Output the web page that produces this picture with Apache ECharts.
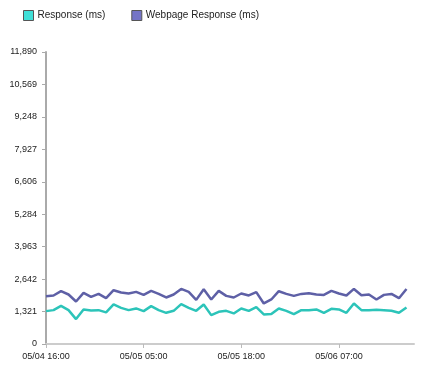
<!DOCTYPE html>
<html>
<head>
<meta charset="utf-8">
<script src="https://cdn.jsdelivr.net/npm/echarts@6/dist/echarts.min.js"></script>
<style>
html,body{margin:0;padding:0;background:#fff;}
#chart{width:429px;height:376px;}
</style>
</head>
<body>
<div id="chart"></div>
<script>
// Hourly categories: 05/04 16:00 .. 05/06 17:00 (last category has no data)
var startDay = 4, startHour = 16, hourCount = 50;
var categories = [];
for (var i = 0; i < hourCount; i++) {
  var h = startHour + i;
  var d = startDay + Math.floor(h / 24);
  var hh = h % 24;
  categories.push('05/' + (d < 10 ? '0' + d : d) + ' ' + (hh < 10 ? '0' + hh : hh) + ':00');
}

var seriesNames = ['Response (ms)', 'Webpage Response (ms)'];

var responseMs = [1339,1379,1554,1379,1014,1408,1367,1379,1286,1610,
                  1472,1379,1448,1339,1541,1379,1270,1351,1623,1472,
                  1351,1610,1176,1310,1351,1245,1448,1351,1501,1205,
                  1217,1448,1351,1217,1379,1379,1408,1270,1432,1408,
                  1270,1651,1379,1379,1391,1379,1351,1270,1489];

var webpageResponseMs = [1947,1976,2150,2016,1732,2081,1919,2040,1866,2191,
                         2097,2057,2122,2000,2162,2040,1894,2016,2243,2122,
                         1797,2231,1813,2162,1959,1894,2057,1976,2110,1651,
                         1813,2150,2040,1959,2040,2069,2016,2000,2162,2057,
                         1976,2243,1988,2016,1813,2000,2040,1866,2243];

var yMax = 11890;
var ySteps = 9;

var chart = echarts.init(document.getElementById('chart'), null, {renderer: 'canvas'});
var font = 'Liberation Sans, Arial, sans-serif';
chart.setOption({
  animation: false,
  backgroundColor: '#fff',
  color: ['#2cc4b9', '#5e60a6'],
  legend: {
    left: 18, top: 5,
    itemWidth: 10, itemHeight: 10, itemGap: 26,
    textStyle: {fontSize: 10, color: '#222', fontFamily: font, padding: [0,0,0,-1]},
    data: [
      {name: seriesNames[0], icon: 'rect', itemStyle: {color: '#40e0d8', borderColor: '#555', borderWidth: 1}},
      {name: seriesNames[1], icon: 'rect', itemStyle: {color: '#7474c6', borderColor: '#555', borderWidth: 1}}
    ]
  },
  grid: {left: 46, right: 15, top: 52, bottom: 32, containLabel: false},
  xAxis: {
    type: 'category',
    data: categories,
    boundaryGap: false,
    axisLine: {lineStyle: {color: '#ccc', width: 2}},
    axisTick: {interval: 12, length: 4, lineStyle: {color: '#bbb'}},
    axisLabel: {interval: 12, fontSize: 9, color: '#222', fontFamily: font, margin: 8},
    splitLine: {show: false}
  },
  yAxis: {
    type: 'value',
    min: 0, max: yMax, interval: yMax / ySteps,
    axisLine: {show: true, lineStyle: {color: '#aaa', width: 2}},
    axisTick: {show: true, length: 4, lineStyle: {color: '#aaa'}},
    axisLabel: {fontSize: 9, color: '#222', fontFamily: font, margin: 9,
      formatter: function (v) { return Math.round(v).toLocaleString('en-US'); }},
    splitLine: {show: false}
  },
  series: [
    {name: seriesNames[0], type: 'line', data: responseMs, showSymbol: false, symbol: 'none',
     lineStyle: {width: 2.5, color: '#2cc4b9'}},
    {name: seriesNames[1], type: 'line', data: webpageResponseMs, showSymbol: false, symbol: 'none',
     lineStyle: {width: 2.5, color: '#5e60a6'}}
  ]
});
</script>
</body>
</html>
